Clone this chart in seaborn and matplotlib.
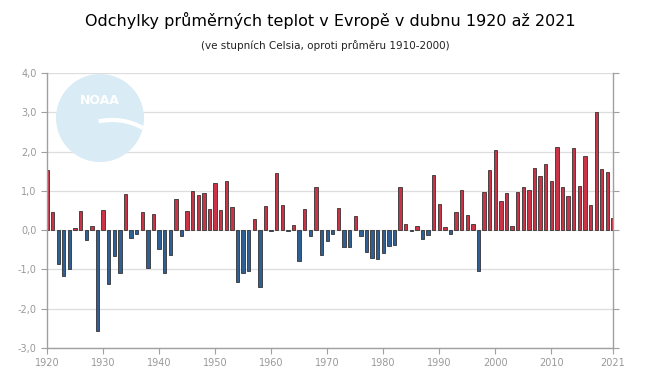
import numpy as np
import pandas as pd
import matplotlib
matplotlib.use("Agg")
import matplotlib.pyplot as plt
from matplotlib.patches import Circle, Arc
import seaborn as sns

years = list(range(1920, 2022))
values = [
    1.54, 0.47, -0.87, -1.16, -1.00, 0.05, 0.50, -0.24, 0.11, -2.56,
    0.51, -1.36, -0.67, -1.10, 0.91, -0.19, -0.10, 0.47, -0.96, 0.42,
    -0.49, -1.09, -0.64, 0.79, -0.16, 0.50, 1.00, 0.90, 0.95, 0.54,
    1.19, 0.51, 1.26, 0.59, -1.33, -1.08, -1.05, 0.28, -1.44, 0.62,
    -0.03, 1.46, 0.64, -0.03, 0.13, -0.79, 0.54, -0.15, 1.10, -0.62,
    -0.28, -0.09, 0.56, -0.44, -0.42, 0.36, -0.15, -0.56, -0.72, -0.74,
    -0.59, -0.41, -0.38, 1.10, 0.15, -0.03, 0.10, -0.22, -0.13, 1.41,
    0.67, 0.08, -0.09, 0.47, 1.03, 0.39, 0.16, -1.03, 0.97, 1.53,
    2.04, 0.75, 0.95, 0.11, 0.98, 1.10, 1.03, 1.58, 1.38, 1.69,
    1.24, 2.12, 1.10, 0.87, 2.09, 1.13, 1.89, 0.64, 3.01, 1.56,
    1.48, 0.30,
]
xtick_values = [1920, 1930, 1940, 1950, 1960, 1970, 1980, 1990, 2000, 2010, 2021]
ytick_values = [-3, -2, -1, 0, 1, 2, 3, 4]
title = "Odchylky průměrných teplot v Evropě v dubnu 1920 až 2021"
subtitle = "(ve stupních Celsia, oproti průměru 1910-2000)"

df = pd.DataFrame({"year": years, "value": values})
df["sign"] = np.where(df["value"] >= 0, "pos", "neg")

sns.set_style("white")
plt.rcParams["font.family"] = ["DejaVu Sans"]

fig = plt.figure(figsize=(6.5, 3.77), dpi=100)
ax = fig.add_axes([47 / 650, 29 / 377, 566 / 650, 275 / 377])

# NOAA watermark
logo = Circle((100, 377 - 118), 44, transform=None, facecolor="#d9ebf5",
              edgecolor="none", zorder=0)
fig.patches.append(logo)
swoosh = Arc((112, 377 - 150), 90, 60, angle=0, theta1=35, theta2=115,
             transform=None, color="white", lw=3, zorder=1)
fig.patches.append(swoosh)
swoosh.set_clip_path(logo)
fig.text(100 / 650, 1 - 101 / 377, "NOAA", ha="center", va="center",
         color="white", fontsize=9, fontweight="bold", zorder=1)

for yv in ytick_values:
    ax.axhline(yv, color="#dddddd", lw=0.9, zorder=0)

sns.barplot(data=df, x="year", y="value", hue="sign",
            palette={"pos": "#e41b33", "neg": "#1e5fa6"},
            native_scale=True, dodge=False, width=0.6, legend=False,
            edgecolor="#333333", linewidth=0.6, ax=ax, zorder=2)

ax.set_xlim(1920, 2021)
ax.set_ylim(-3, 4)
ax.set_xticks(xtick_values)
ax.set_xticklabels([str(v) for v in xtick_values])
ax.set_yticks(ytick_values)
ax.set_yticklabels([f"{v:.1f}".replace(".", ",") for v in ytick_values])
ax.set_xlabel("")
ax.set_ylabel("")
ax.patch.set_alpha(0)

for side in ["left", "right", "bottom"]:
    ax.spines[side].set_color("#a0a0a0")
    ax.spines[side].set_linewidth(1.0)
ax.spines["top"].set_visible(False)

ax.tick_params(axis="both", colors="#a0a0a0", labelcolor="#999999",
               labelsize=7, length=4, width=0.8, direction="out")
ax.tick_params(axis="y", right=True, left=True, labelright=False)
ax.tick_params(axis="x", bottom=True, pad=3)

fig.text(330 / 650, 1 - 20 / 377, title, ha="center", va="center",
         fontsize=11.5, color="black")
fig.text(325 / 650, 1 - 46 / 377, subtitle, ha="center", va="center",
         fontsize=7.5, color="#222222")

fig.savefig("out.png", dpi=100)
